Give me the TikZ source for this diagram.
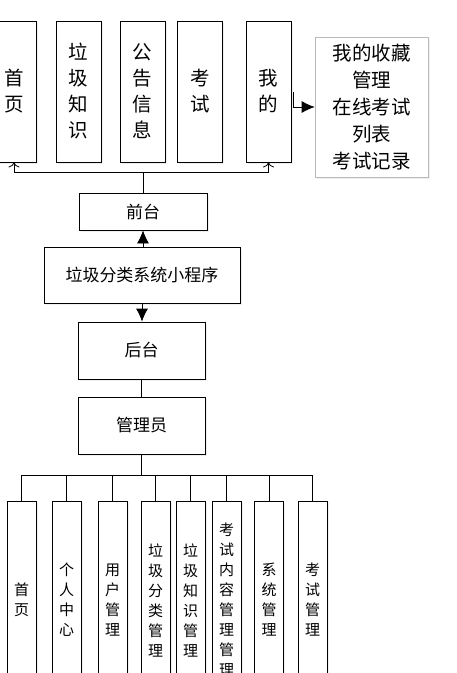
\documentclass[tikz,border=0pt]{standalone}
\usepackage{fontspec}
\newfontfamily\cjk{Noto Sans CJK SC}
\usepackage{tikz}
\usetikzlibrary{arrows.meta,shadows}

\tikzset{
  box/.style={draw, line width=0.8pt, fill=white, inner sep=0pt, align=center,
    drop shadow={shadow xshift=1.5pt, shadow yshift=-1.5pt, fill=gray!25}},
  topbox/.style={box, minimum width=45pt, minimum height=141pt,
    font=\cjk\fontsize{19.5}{26}\selectfont},
  subbox/.style={box, minimum width=29pt, minimum height=198pt,
    font=\cjk\fontsize{15}{20}\selectfont},
  midbox/.style={box, font=\cjk\fontsize{17}{20}\selectfont},
  solidarrow/.style={-{Latex[length=13pt,width=12pt]}},
  openarrow/.style={-{To[length=5pt,width=11pt]}},
}

\begin{document}
\begin{tikzpicture}[x=1pt, y=-1pt]
\useasboundingbox (0,0) rectangle (456,673);

% front end pages
\node[topbox] (shouye) at (14,91.5) {首\\页};
\node[topbox] (lajizhishi) at (78.5,91.5) {垃\\圾\\知\\识};
\node[topbox] (gonggao) at (142.5,91.5) {公\\告\\信\\息};
\node[topbox] (kaoshi) at (200,91.5) {考\\试};
\node[topbox] (wode) at (268.5,91.5) {我\\的};
\node[box, draw=gray!55, line width=0.6pt, minimum width=113pt, minimum height=140pt,
  font=\cjk\fontsize{19.5}{27}\selectfont] (shoucang) at (371.5,107)
  {我的收藏\\管理\\在线考试\\列表\\考试记录};
\draw[line width=0.8pt, solidarrow] ([xshift=2pt]wode.east) |- (shoucang.west);

% system
\node[midbox, minimum width=128pt, minimum height=37pt] (qiantai) at (143,211.5) {前台};
\node[midbox, minimum width=196pt, minimum height=56pt] (xiaochengxu) at (142,275) {垃圾分类系统小程序};
\node[midbox, minimum width=127pt, minimum height=57pt] (houtai) at (141.5,350.5) {后台};
\node[midbox, minimum width=127pt, minimum height=57pt] (guanliyuan) at (141.5,425.5) {管理员};

\coordinate (topbus) at (143,172);
\draw[line width=0.8pt] (qiantai.north) -- (topbus);
\draw[line width=0.8pt, openarrow] (topbus) -| (shouye.south);
\draw[line width=0.8pt, openarrow] (topbus) -| (wode.south);
\draw[line width=0.8pt, solidarrow] (xiaochengxu.north -| qiantai.south) -- (qiantai.south);
\draw[line width=0.8pt, solidarrow] (xiaochengxu.south) -- (xiaochengxu.south |- houtai.north);
\draw[line width=0.8pt] (houtai.south) -- (guanliyuan.north);

% admin modules
\node[subbox] (m1) at (21.5,600) {首\\页};
\node[subbox] (m2) at (66.5,600) {个\\人\\中\\心};
\node[subbox] (m3) at (112.5,600) {用\\户\\管\\理};
\node[subbox] (m4) at (155.5,600) {垃\\圾\\分\\类\\管\\理};
\node[subbox] (m5) at (190.5,600) {垃\\圾\\知\\识\\管\\理};
\node[subbox] (m6) at (226.5,600) {考\\试\\内\\容\\管\\理\\管\\理};
\node[subbox] (m7) at (269,600) {系\\统\\管\\理};
\node[subbox] (m8) at (312.5,600) {考\\试\\管\\理};

\coordinate (botbus) at (141.5,475);
\draw[line width=1.6pt] (guanliyuan.south) -- (botbus);
\foreach \m in {m1,m2,m3,m4,m5,m6,m7,m8}
  \draw[line width=0.8pt] (botbus) -| (\m.north);
\end{tikzpicture}
\end{document}
